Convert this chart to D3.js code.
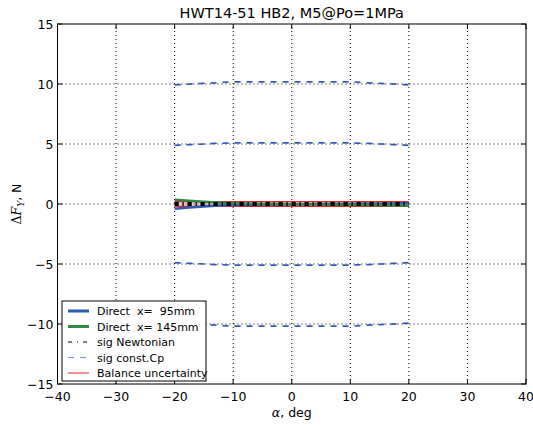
<!DOCTYPE html>
<html>
<head>
<meta charset="utf-8">
<script src="https://cdn.jsdelivr.net/npm/d3@7"></script>
<style>
  body { margin: 0; background: #fff; }
  text { font-family: "DejaVu Sans", sans-serif; white-space: pre; }
</style>
</head>
<body>
<script>
// angle of attack, deg
const alpha = [-20, -17.5, -15, -12.5, -10, -7.5, -5, -2.5, 0, 2.5, 5, 7.5, 10, 12.5, 15, 17.5, 20];

// measured side force deltas
const direct95  = [-0.40, -0.30, -0.20, -0.13, -0.08, -0.06, -0.05, -0.04, -0.03, -0.02, -0.01, 0.00, 0.01, 0.02, 0.03, 0.05, 0.07];
const direct145 = [0.35, 0.27, 0.19, 0.12, 0.06, 0.03, 0.01, 0.00, -0.02, -0.03, -0.05, -0.06, -0.08, -0.09, -0.11, -0.12, -0.14];

// sigma bands
const sigNewton1 = [0.06, 0.06, 0.06, 0.06, 0.06, 0.06, 0.06, 0.06, 0.06, 0.06, 0.06, 0.06, 0.06, 0.06, 0.06, 0.06, 0.06];
const sigNewton2 = [0.11, 0.11, 0.11, 0.11, 0.11, 0.11, 0.11, 0.11, 0.11, 0.11, 0.11, 0.11, 0.11, 0.11, 0.11, 0.11, 0.11];
const sigCp1 = [4.89, 4.95, 5.01, 5.06, 5.10, 5.11, 5.11, 5.11, 5.11, 5.11, 5.11, 5.11, 5.10, 5.06, 5.01, 4.95, 4.89];
const sigCp2 = [9.94, 10.00, 10.06, 10.12, 10.18, 10.19, 10.19, 10.19, 10.19, 10.19, 10.19, 10.19, 10.18, 10.12, 10.06, 10.00, 9.94];
const balance = [0.2, 0.2, 0.2, 0.2, 0.2, 0.2, 0.2, 0.2, 0.2, 0.2, 0.2, 0.2, 0.2, 0.2, 0.2, 0.2, 0.2];

const xTicks = [-40, -30, -20, -10, 0, 10, 20, 30, 40];
const yTicks = [-15, -10, -5, 0, 5, 10, 15];

const legendItems = [
  { label: "Direct  x=  95mm", color: "#2b5cb0", width: 3, dash: null },
  { label: "Direct  x= 145mm", color: "#2f8a44", width: 3, dash: null },
  { label: "sig Newtonian", color: "#000", width: 1, dash: "4,5,1,5" },
  { label: "sig const.Cp", color: "#6f95d2", width: 1.2, dash: "6,6" },
  { label: "Balance uncertainty", color: "#e0202a", width: 1, dash: null }
];

const W = 533, H = 425;
const m = { left: 57.5, right: 7, top: 24, bottom: 41 };

const svg = d3.select("body").append("svg")
  .attr("width", W).attr("height", H);

const x = d3.scaleLinear().domain([-40, 40]).range([m.left, W - m.right]);
const y = d3.scaleLinear().domain([-15, 15]).range([H - m.bottom, m.top]);

// grid
svg.append("g").selectAll("line").data(xTicks.slice(1, -1)).enter().append("line")
  .attr("x1", d => x(d)).attr("x2", d => x(d))
  .attr("y1", y(-15)).attr("y2", y(15))
  .attr("stroke", "#000").attr("stroke-width", 1).attr("stroke-dasharray", "1,3");
svg.append("g").selectAll("line").data(yTicks.slice(1, -1)).enter().append("line")
  .attr("y1", d => y(d)).attr("y2", d => y(d))
  .attr("x1", x(-40)).attr("x2", x(40))
  .attr("stroke", "#000").attr("stroke-width", 1).attr("stroke-dasharray", "1,3");

const line = d3.line().x((d, i) => x(alpha[i])).y(d => y(d));
const neg = arr => arr.map(v => -v);

function drawLine(vals, color, width, dash) {
  const p = svg.append("path").datum(vals)
    .attr("d", line).attr("fill", "none")
    .attr("stroke", color).attr("stroke-width", width);
  if (dash) p.attr("stroke-dasharray", dash);
}

// const.Cp sigma bands
[sigCp1, sigCp2].forEach(s => {
  drawLine(s.map(v => v - 0.03), "#86a6dc", 1.2, "6,6");
  drawLine(neg(s).map(v => v + 0.03), "#86a6dc", 1.2, "6,6");
  drawLine(s, "#2d58ad", 1.5, "6,6");
  drawLine(neg(s), "#2d58ad", 1.5, "6,6");
});

// balance uncertainty
svg.append("path").datum(balance)
  .attr("d", d3.area().x((d, i) => x(alpha[i])).y0(d => y(-d)).y1(d => y(d)))
  .attr("fill", "#f08080").attr("opacity", 0.35);
drawLine(balance, "#e0202a", 1.2, null);
drawLine(neg(balance), "#e0202a", 1.2, null);

// direct measurements
drawLine(direct95, "#2b5cb0", 2.5, null);
drawLine(direct145, "#2f8a44", 2.5, null);

// Newtonian sigma
[sigNewton1, sigNewton2].forEach(s => {
  drawLine(s, "#000", 1.4, "4,4,1,4");
  drawLine(neg(s), "#000", 1.4, "4,4,1,4");
});

// frame
svg.append("rect")
  .attr("x", x(-40)).attr("y", y(15))
  .attr("width", x(40) - x(-40)).attr("height", y(-15) - y(15))
  .attr("fill", "none").attr("stroke", "#000").attr("stroke-width", 1);

// ticks inside on all sides
const tk = svg.append("g").attr("stroke", "#000").attr("stroke-width", 1);
xTicks.forEach(t => {
  tk.append("line").attr("x1", x(t)).attr("x2", x(t)).attr("y1", y(-15)).attr("y2", y(-15) - 5);
  tk.append("line").attr("x1", x(t)).attr("x2", x(t)).attr("y1", y(15)).attr("y2", y(15) + 5);
});
yTicks.forEach(t => {
  tk.append("line").attr("y1", y(t)).attr("y2", y(t)).attr("x1", x(-40)).attr("x2", x(-40) + 5);
  tk.append("line").attr("y1", y(t)).attr("y2", y(t)).attr("x1", x(40)).attr("x2", x(40) - 5);
});

const fmt = v => (v < 0 ? "\u2212" + Math.abs(v) : "" + v);

svg.append("g").selectAll("text").data(xTicks).enter().append("text")
  .attr("x", d => x(d)).attr("y", y(-15) + 17)
  .attr("text-anchor", "middle").attr("font-size", 12.5)
  .text(fmt);
svg.append("g").selectAll("text").data(yTicks).enter().append("text")
  .attr("x", x(-40) - 4).attr("y", d => y(d) + 4.5)
  .attr("text-anchor", "end").attr("font-size", 12.5)
  .text(fmt);

// title
svg.append("text").attr("x", x(0)).attr("y", 18)
  .attr("text-anchor", "middle").attr("font-size", 14.5)
  .text("HWT14-51 HB2, M5@Po=1MPa");

// axis labels
const xl = svg.append("text").attr("x", x(0)).attr("y", 417)
  .attr("text-anchor", "middle").attr("font-size", 12.5);
xl.append("tspan").attr("font-family", "DejaVu Serif").attr("font-style", "italic").text("\u03b1");
xl.append("tspan").text(", deg");

const yl = svg.append("text")
  .attr("transform", `translate(21,${y(0)}) rotate(-90)`)
  .attr("text-anchor", "middle").attr("font-size", 12.5);
yl.append("tspan").attr("font-family", "DejaVu Serif").text("\u0394");
yl.append("tspan").attr("font-family", "DejaVu Serif").attr("font-style", "italic").text("F");
yl.append("tspan").attr("font-family", "DejaVu Serif").attr("font-style", "italic")
  .attr("font-size", 9).attr("dy", 3).text("Y");
yl.append("tspan").attr("dy", -3).text(", N");

// legend
const lg = svg.append("g").attr("transform", "translate(62,301)");
lg.append("rect").attr("width", 144).attr("height", 80)
  .attr("fill", "#fff").attr("stroke", "#000").attr("stroke-width", 1);
legendItems.forEach((it, i) => {
  const yy = 10 + i * 15.5;
  const l = lg.append("line").attr("x1", 6).attr("x2", 27).attr("y1", yy).attr("y2", yy)
    .attr("stroke", it.color).attr("stroke-width", it.width);
  if (it.dash) l.attr("stroke-dasharray", it.dash);
  lg.append("text").attr("x", 35).attr("y", yy + 4).attr("font-size", 11).text(it.label);
});
</script>
</body>
</html>
